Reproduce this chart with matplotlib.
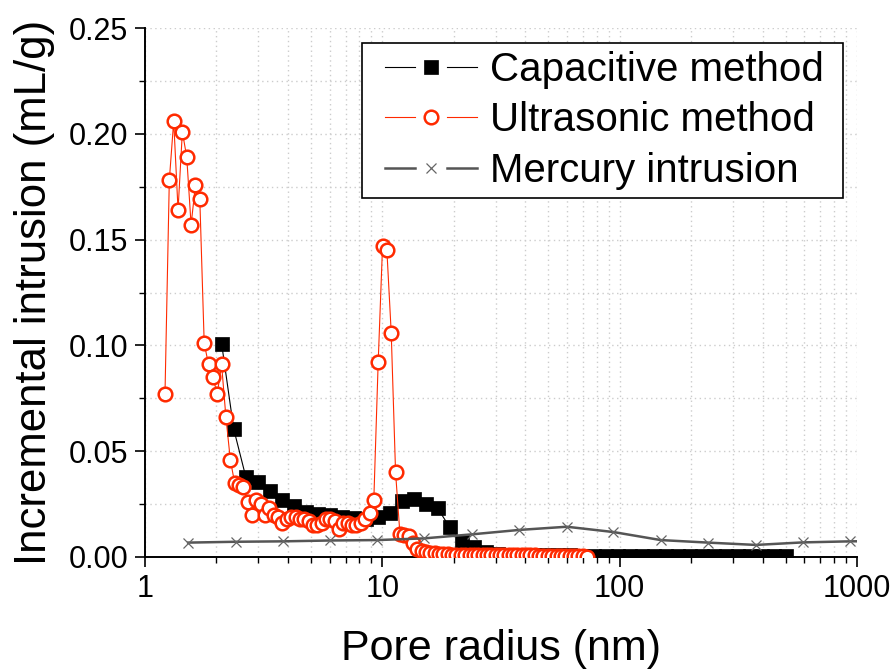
import numpy as np
import matplotlib as mpl
mpl.use( "Agg" )
import matplotlib.pyplot as plt
from matplotlib.lines import Line2D
from matplotlib.legend_handler import HandlerBase
from matplotlib.ticker import FixedLocator, NullFormatter, FuncFormatter

plt.rcParams["font.family"] = ["Liberation Sans", "DejaVu Sans"]

###############
## Data      ##
###############

## Capacitive method
cap_radius = [ 2.105, 2.365, 2.657, 2.985, 3.354, 3.769, 4.233, 4.756, 5.343, 6.002,
               6.744, 7.577, 8.511, 9.564, 10.74, 12.07, 13.56, 15.24, 17.12, 19.23,
               21.61, 24.28, 27.28, 30.65, 34.43, 38.68, 43.45, 48.83, 54.86, 61.63,
               69.24, 77.80, 87.41, 98.18, 110.3, 123.9, 139.2, 156.4, 175.8, 197.5,
               221.8, 249.2, 280.0, 314.6, 353.4, 397.1, 446.1, 501.2 ]
cap_value  = [ 0.1005, 0.0605, 0.038, 0.0356, 0.031, 0.027, 0.024, 0.0215, 0.0205, 0.020,
               0.019, 0.0183, 0.018, 0.019, 0.021, 0.0265, 0.0275, 0.025, 0.023, 0.014,
               0.0072, 0.0045, 0.0025, 0.0015, 0.0009, 0.0008, 0.0008, 0.0008, 0.0008, 0.0008,
               0.0007, 0.0007, 0.0007, 0.0006, 0.0006, 0.0006, 0.0005, 0.0005, 0.0005, 0.0005,
               0.0004, 0.0004, 0.0004, 0.0004, 0.0004, 0.0004, 0.0004, 0.0004 ]

## Ultrasonic method
ult_radius = [ 1.214, 1.266, 1.321, 1.378, 1.437, 1.499, 1.564, 1.632, 1.702, 1.776,
               1.852, 1.932, 2.015, 2.102, 2.193, 2.288, 2.386, 2.489, 2.597, 2.708,
               2.825, 2.947, 3.074, 3.207, 3.345, 3.489, 3.639, 3.796, 3.960, 4.131,
               4.309, 4.494, 4.688, 4.890, 5.101, 5.321, 5.550, 5.790, 6.039, 6.300,
               6.571, 6.855, 7.150, 7.459, 7.780, 8.116, 8.466, 8.831, 9.207, 9.605,
               10.02, 10.45, 10.90, 11.37, 11.86, 12.37, 12.91, 13.46, 14.04, 14.65,
               15.28, 15.94, 16.63, 17.35, 18.09, 18.87, 19.69, 20.53, 21.42, 22.34,
               23.31, 24.31, 25.36, 26.45, 27.59, 28.78, 30.02, 31.32, 32.67, 34.08,
               35.54, 37.08, 38.67, 40.34, 42.08, 43.90, 45.79, 47.75, 49.82, 51.96,
               54.20, 56.55, 58.98, 61.52, 64.18, 66.95, 69.82, 72.85 ]
ult_value  = [ 0.077, 0.178, 0.206, 0.164, 0.201, 0.189, 0.157, 0.176, 0.169, 0.101,
               0.091, 0.085, 0.077, 0.091, 0.066, 0.046, 0.035, 0.034, 0.033, 0.026,
               0.020, 0.027, 0.025, 0.020, 0.023, 0.020, 0.019, 0.016, 0.018, 0.019,
               0.019, 0.018, 0.018, 0.017, 0.015, 0.015, 0.016, 0.018, 0.018, 0.017,
               0.013, 0.016, 0.016, 0.015, 0.015, 0.016, 0.018, 0.021, 0.027, 0.092,
               0.147, 0.145, 0.106, 0.040, 0.011, 0.0105, 0.0098, 0.0066, 0.004, 0.003,
               0.0025, 0.002, 0.0018, 0.0015, 0.0013, 0.0012, 0.0011, 0.0010, 0.0010, 0.0010,
               0.0010, 0.0010, 0.0010, 0.0010, 0.0010, 0.0010, 0.0010, 0.0009, 0.0009, 0.0009,
               0.0009, 0.0008, 0.0008, 0.0008, 0.0008, 0.0008, 0.0007, 0.0007, 0.0007, 0.0007,
               0.0007, 0.0006, 0.0006, 0.0006, 0.0006, 0.0006, 0.0005, 0.0001 ]

## Mercury intrusion
hg_radius = [ 1.52, 2.41, 3.82, 6.02, 9.53, 15.0, 23.8, 37.8, 59.9, 94.1,
              149., 236., 375., 591., 935., 1480. ]
hg_value  = [ 0.0068, 0.0072, 0.0074, 0.0078, 0.0080, 0.0088, 0.0107, 0.0128, 0.0143, 0.0118,
              0.0080, 0.0068, 0.0057, 0.0069, 0.0074, 0.0076 ]

labels = [ "Capacitive method " , "Ultrasonic method " , "Mercury intrusion " ]


###############
## Functions ##
###############

class HandlerGapLine(HandlerBase):##{{{
	"""
	Legend entry drawn as  ---- marker ----  with a gap around the marker
	"""
	def __init__( self , lead = 10.8 , seg = 21.6 , gap = 23. ):
		HandlerBase.__init__(self)
		self.lead = lead
		self.seg  = seg
		self.gap  = gap
	
	def create_artists( self , legend , orig , xdescent , ydescent , width , height , fontsize , trans ):
		y  = height / 2. - ydescent
		x0 = -xdescent + self.lead
		x1 = x0 + self.seg
		x2 = x1 + self.gap
		x3 = x2 + self.seg
		kw = dict( color = orig.get_color() , linewidth = orig.get_linewidth() , transform = trans )
		l1 = Line2D( [x0,x1] , [y,y] , **kw )
		l2 = Line2D( [x2,x3] , [y,y] , **kw )
		mk = Line2D( [(x1+x2)/2.] , [y] , linestyle = "none" , marker = orig.get_marker() ,
		             markersize = orig.get_markersize() , markerfacecolor = orig.get_markerfacecolor() ,
		             markeredgecolor = orig.get_markeredgecolor() , markeredgewidth = orig.get_markeredgewidth() ,
		             transform = trans )
		return [l1,l2,mk]
##}}}


###############
## Plot      ##
###############

red  = "#ff2a00"
grey = "#555555"

fig = plt.figure( figsize = ( 8.96 , 6.71 ) , dpi = 100 )
ax  = fig.add_axes( [ 145 / 896 , 114 / 671 , 712 / 896 , 529 / 671 ] )

l_cap, = ax.plot( cap_radius , cap_value , color = "black" , linestyle = "-" , linewidth = 0.8 ,
                  marker = "s" , markersize = 10 , markerfacecolor = "black" , markeredgecolor = "black" ,
                  markeredgewidth = 0.5 , zorder = 3 )
l_ult, = ax.plot( ult_radius , ult_value , color = red , linestyle = "-" , linewidth = 0.8 ,
                  marker = "o" , markersize = 9.8 , markerfacecolor = "white" , markeredgecolor = red ,
                  markeredgewidth = 1.8 , zorder = 4 )
l_hg,  = ax.plot( hg_radius , hg_value , color = grey , linestyle = "-" , linewidth = 1.8 ,
                  marker = "x" , markersize = 6.5 , markeredgecolor = "#666666" , markeredgewidth = 0.9 , zorder = 5 )

## Axes
ax.set_xscale( "log" )
ax.set_xlim( ( 1 , 1000 ) )
ax.set_ylim( ( 0 , 0.25 ) )
ax.xaxis.set_major_locator( FixedLocator( [ 1 , 10 , 100 , 1000 ] ) )
ax.xaxis.set_major_formatter( FuncFormatter( lambda v , p : "{:g}".format(v) ) )
ax.xaxis.set_minor_locator( FixedLocator( [ m * 10**e for e in range(3) for m in range(2,10) ] ) )
ax.xaxis.set_minor_formatter( NullFormatter() )
ax.yaxis.set_major_locator( FixedLocator( [ 0 , 0.05 , 0.10 , 0.15 , 0.20 , 0.25 ] ) )
ax.yaxis.set_major_formatter( FuncFormatter( lambda v , p : "{:.2f}".format(v) ) )
ax.yaxis.set_minor_locator( FixedLocator( [ 0.025 , 0.075 , 0.125 , 0.175 , 0.225 ] ) )

for s in ["top","right"]:
	ax.spines[s].set_visible(False)
for s in ["left","bottom"]:
	ax.spines[s].set_linewidth(1.4)

ax.tick_params( which = "major" , direction = "out" , length = 7 , width = 1.2 , labelsize = 22 , pad = 5 )
ax.tick_params( which = "minor" , direction = "out" , length = 4 , width = 1.0 )
ax.grid( which = "both" , color = "#cccccc" , linestyle = ( 0 , ( 1 , 2.5 ) ) , linewidth = 1.0 )
ax.set_axisbelow( True )

ax.set_xlabel( "Pore radius (nm)" , fontsize = 31 , labelpad = 18 )
ax.set_ylabel( "Incremental intrusion (mL/g)" , fontsize = 31.5 , labelpad = 10 )

## Legend
leg = ax.legend( [ l_cap , l_ult , l_hg ] , labels , handler_map = { Line2D : HandlerGapLine() } ,
                 loc = "upper right" , bbox_to_anchor = ( 0.98 , 0.972 ) , borderaxespad = 0 ,
                 fontsize = 29 , handlelength = 2.655 , handletextpad = 0.32 , labelspacing = 0.31 ,
                 borderpad = 0.2 , fancybox = False , framealpha = 1 , edgecolor = "black" )
leg.get_frame().set_linewidth(1.2)

fig.savefig( "out.png" , dpi = 100 )
plt.close(fig)
